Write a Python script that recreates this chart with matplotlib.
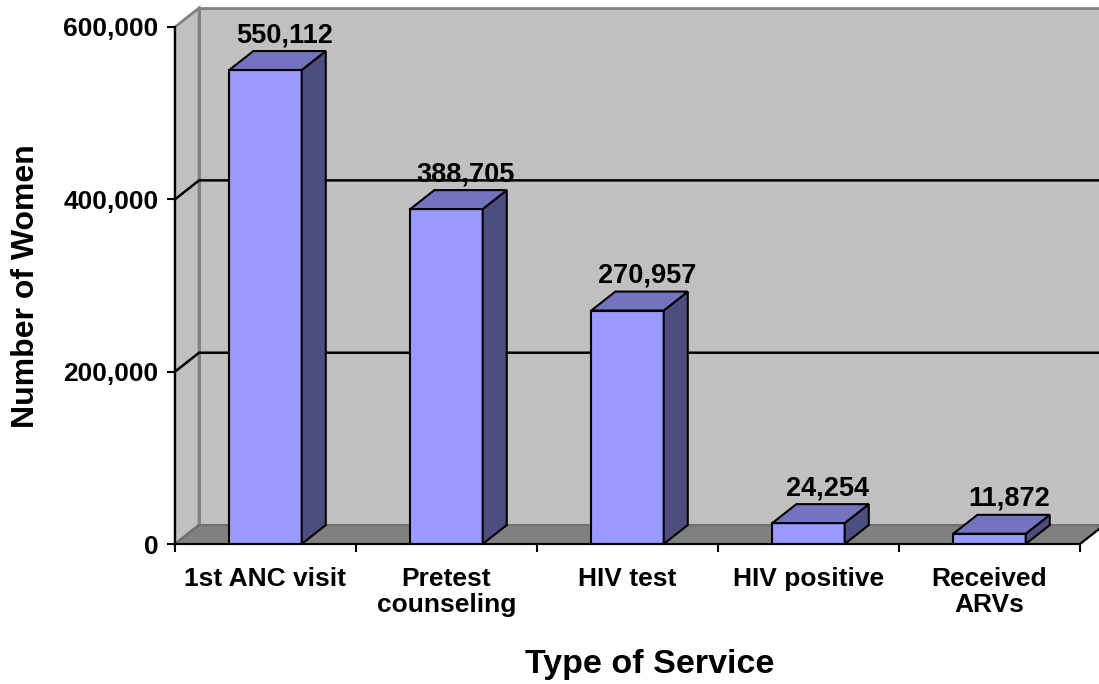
import numpy as np
import matplotlib.pyplot as plt
from matplotlib.patches import Polygon
from matplotlib.ticker import FuncFormatter

plt.rcParams['font.family'] = ['Liberation Sans', 'DejaVu Sans']
plt.rcParams['font.weight'] = 'bold'

services = ['1st ANC visit', 'Pretest\ncounseling', 'HIV test',
            'HIV positive', 'Received\nARVs']
women = [550112, 388705, 270957, 24254, 11872]
y_ticks = [0, 200000, 400000, 600000]
y_max = 600000

# depth of the fake 3d box (data units) and bar width
DX = 0.133
DY = 22000
BAR_W = 0.4

front_col = '#9999FF'
side_col = '#4D4D80'
top_col = '#7373BF'
wall_col = '#C0C0C0'
floor_col = '#808080'

fig = plt.figure(figsize=(10.99, 6.84), dpi=100)
ax = fig.add_axes([175 / 1099, 140 / 684, 905 / 1099, 517 / 684])
ax.set_xlim(0, len(services))
ax.set_ylim(0, y_max)
ax.patch.set_visible(False)


def face(pts, color, edge, lw, z):
    ax.add_patch(Polygon(pts, closed=True, facecolor=color, edgecolor=edge,
                         linewidth=lw, zorder=z, clip_on=False,
                         joinstyle='miter'))


n = len(services)
# back wall, side wall and floor
face([(DX, DY), (n + DX + 0.3, DY), (n + DX + 0.3, y_max + DY),
      (DX, y_max + DY)], wall_col, '#808080', 2, 0)
face([(0, 0), (DX, DY), (DX, y_max + DY), (0, y_max)],
     wall_col, '#808080', 2, 0.1)
face([(0, 0), (n, 0), (n + DX, DY), (DX, DY)], floor_col, '#707070', 1.5, 0.2)
ax.plot([n, n + DX], [0, DY], color='black', lw=1.5, clip_on=False, zorder=0.3)

# gridlines on side and back wall
for t in y_ticks[1:-1]:
    ax.plot([0, DX, n + DX + 0.3], [t, t + DY, t + DY], color='black',
            lw=1.8, clip_on=False, zorder=0.5)

# the bars
for i, v in enumerate(women):
    x0 = i + 0.5 - BAR_W / 2
    x1 = x0 + BAR_W
    face([(x0, 0), (x1, 0), (x1, v), (x0, v)], front_col, 'black', 1.5, 2)
    face([(x1, 0), (x1 + DX, DY), (x1 + DX, v + DY), (x1, v)],
         side_col, 'black', 1.5, 2)
    face([(x0, v), (x1, v), (x1 + DX, v + DY), (x0 + DX, v + DY)],
         top_col, 'black', 1.5, 2)
    ax.annotate(f'{v:,}', (i + 0.5 + 0.8 * DX, v + DY), xytext=(0, 6.5),
                textcoords='offset points', ha='center', va='baseline',
                fontsize=19.5, fontweight='bold', zorder=3)

# axes
for s in ['top', 'right']:
    ax.spines[s].set_visible(False)
for s in ['left', 'bottom']:
    ax.spines[s].set_linewidth(1.5)
    ax.spines[s].set_zorder(3)

ax.set_yticks(y_ticks)
ax.yaxis.set_major_formatter(FuncFormatter(lambda v, p: f'{v:,.0f}'))
ax.tick_params(axis='y', length=5.8, width=1.5, pad=6, labelsize=19)

ax.set_xticks(np.arange(n + 1))
ax.set_xticklabels([])
ax.tick_params(axis='x', which='major', length=5.8, width=1.5)
ax.set_xticks(np.arange(n) + 0.5, minor=True)
ax.set_xticklabels(services, minor=True, fontsize=19, linespacing=1.12)
ax.tick_params(axis='x', which='minor', length=0, pad=16.5)

fig.text(26 / 1099, 1 - 286 / 684, 'Number of Women', rotation=90,
         ha='center', va='center', fontsize=23, fontweight='bold')
fig.text(650 / 1099, 1 - 665 / 684, 'Type of Service',
         ha='center', va='center', fontsize=24.5, fontweight='bold')

fig.savefig('out.png', dpi=100)
